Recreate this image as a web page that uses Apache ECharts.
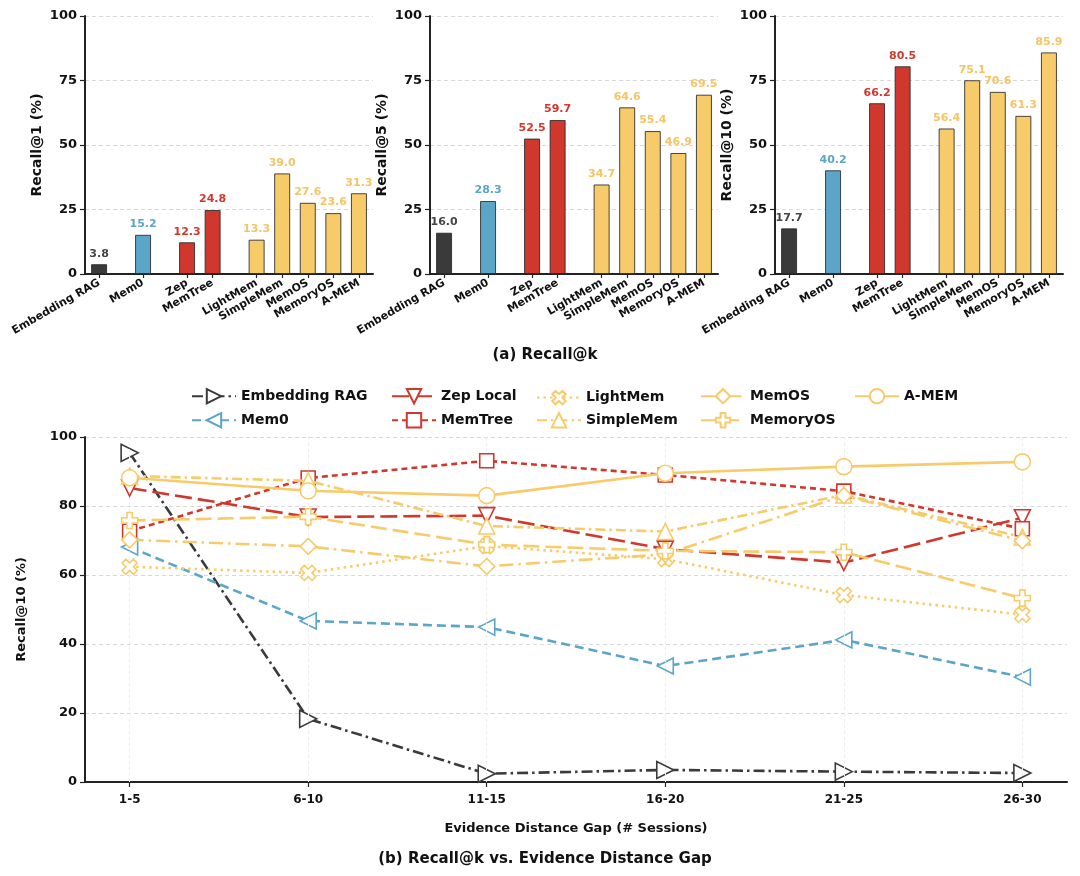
<!DOCTYPE html>
<html>
<head>
<meta charset="utf-8">
<title>Recall@k</title>
<script src="https://cdn.jsdelivr.net/npm/echarts@6/dist/echarts.min.js"></script>
<style>
	html, body { margin: 0; padding: 0; background: #fff; }
	#chart { width: 1080px; height: 876px; }
</style>
</head>
<body>
<div id="chart"></div>
<script>
// ---- data (a) bars
var methods = ['Embedding RAG', 'Mem0', 'Zep', 'MemTree', 'LightMem', 'SimpleMem', 'MemOS', 'MemoryOS', 'A-MEM'];
var barPos = [0, 1.72, 3.44, 4.44, 6.16, 7.16, 8.16, 9.16, 10.16]; // grouped slots
var recall1 = [3.8, 15.2, 12.3, 24.8, 13.3, 39.0, 27.6, 23.6, 31.3];
var recall5 = [16.0, 28.3, 52.5, 59.7, 34.7, 64.6, 55.4, 46.9, 69.5];
var recall10 = [17.7, 40.2, 66.2, 80.5, 56.4, 75.1, 70.6, 61.3, 85.9];

// ---- data (b) lines
var gaps = ['1-5', '6-10', '11-15', '16-20', '21-25', '26-30'];
var embeddingRag = [95.4, 18.3, 2.4, 3.5, 3.0, 2.6];
var mem0 = [68.1, 46.7, 44.9, 33.6, 41.2, 30.4];
var zepLocal = [85.2, 76.8, 77.2, 67.5, 63.6, 76.6];
var memTree = [72.7, 88.1, 93.1, 89.0, 84.3, 73.4];
var lightMem = [62.4, 60.6, 68.4, 64.6, 54.2, 48.5];
var simpleMem = [88.7, 87.3, 74.2, 72.6, 83.2, 71.0];
var memOS = [70.2, 68.3, 62.5, 66.0, 83.0, 69.9];
var memoryOS = [75.8, 76.9, 68.8, 67.0, 66.6, 53.3];
var aMem = [88.2, 84.4, 83.0, 89.5, 91.4, 92.8];

var DARK = '#3a3a3a';
var BLUE = '#5aa5c8';
var RED = '#d0372d';
var YELLOW = '#f8cb6a';
var FONT = 'DejaVu Sans';

// colour of each bar, by group
var barColors = [DARK, BLUE, RED, RED, YELLOW, YELLOW, YELLOW, YELLOW, YELLOW];
var labelColors = ['#444', BLUE, RED, RED, '#f5c463', '#f5c463', '#f5c463', '#f5c463', '#f5c463'];

var PLUS = 'path://M1,0 L2,0 L2,1 L3,1 L3,2 L2,2 L2,3 L1,3 L1,2 L0,2 L0,1 L1,1 Z';

var chart = echarts.init(document.getElementById('chart'), null, { renderer: 'canvas' });

function nameAt(list, pos, v) {
	for (var i = 0; i < pos.length; i++) {
		if (Math.abs(pos[i] - v) < 0.01) return list[i];
	}
	return '';
}

function barPanel(idx, left, values, yName) {
	var grid = { left: left, top: 16, width: 288, height: 258 };
	var xAxis = {
		type: 'value',
		gridIndex: idx,
		min: -0.55,
		max: 10.71,
		axisLine: { show: true, onZero: false, lineStyle: { color: '#222', width: 2 } },
		axisTick: { show: true, customValues: barPos, length: 4, lineStyle: { color: '#222', width: 1.2 } },
		axisLabel: {
			customValues: barPos,
			rotate: 30,
			margin: 8,
			fontFamily: FONT,
			fontWeight: 'bold',
			fontSize: 11,
			color: '#111',
			formatter: function(v) {
				return nameAt(methods, barPos, v);
			},
		},
		splitLine: { show: false },
	};
	var yAxis = {
		type: 'value',
		gridIndex: idx,
		min: 0,
		max: 100,
		interval: 25,
		name: yName,
		nameLocation: 'middle',
		nameGap: 41,
		nameTextStyle: { fontFamily: FONT, fontWeight: 'bold', fontSize: 14, color: '#111' },
		axisLine: { show: true, onZero: false, lineStyle: { color: '#222', width: 2 } },
		axisTick: { show: true, length: 5, lineStyle: { color: '#222', width: 1.2 } },
		axisLabel: { fontFamily: FONT, fontWeight: 'bold', fontSize: 13, color: '#111', margin: 8 },
		splitLine: { show: true, lineStyle: { color: '#d8d8d8', type: [4, 3], width: 1 } },
	};
	var data = values.map(function(v, i) {
		return {
			value: [barPos[i], v],
			itemStyle: { color: barColors[i] },
			label: { color: labelColors[i] },
		};
	});
	var series = {
		type: 'bar',
		xAxisIndex: idx,
		yAxisIndex: idx,
		barWidth: 16,
		data: data,
		itemStyle: { borderColor: 'rgba(40,40,40,0.85)', borderWidth: 1 },
		label: {
			show: true,
			position: 'top',
			distance: 5,
			fontFamily: FONT,
			fontWeight: 'bold',
			fontSize: 11,
			formatter: function(p) {
				return p.value[1].toFixed(1);
			},
		},
	};
	return { grid: grid, xAxis: xAxis, yAxis: yAxis, series: series };
}

var panels = [
	barPanel(0, 85, recall1, 'Recall@1 (%)'),
	barPanel(1, 430, recall5, 'Recall@5 (%)'),
	barPanel(2, 775, recall10, 'Recall@10 (%)'),
];

// line series description: name, values, colour, dash, symbol, rotate
var lineDefs = [
	['Embedding RAG', embeddingRag, DARK, [11, 4, 2.5, 4], 'triangle', -90],
	['Mem0', mem0, BLUE, [9, 5], 'triangle', 90],
	['Zep Local', zepLocal, RED, [17, 6], 'triangle', 180],
	['MemTree', memTree, RED, [6, 4], 'rect', 0],
	['LightMem', lightMem, YELLOW, [2.5, 4], PLUS, 45],
	['SimpleMem', simpleMem, YELLOW, [10, 4, 2.5, 4], 'triangle', 0],
	['MemOS', memOS, YELLOW, [14, 5, 2.5, 5], 'diamond', 0],
	['MemoryOS', memoryOS, YELLOW, [16, 6], PLUS, 0],
	['A-MEM', aMem, YELLOW, 'solid', 'circle', 0],
];

var lineSeries = lineDefs.map(function(d, k) {
	return {
		name: d[0],
		type: 'line',
		xAxisIndex: 3,
		yAxisIndex: 3,
		data: d[1].map(function(v, i) {
			return [i, v];
		}),
		color: d[2],
		lineStyle: { color: d[2], width: 2.6, type: d[3] },
		symbol: d[4],
		symbolRotate: d[5],
		symbolSize: d[4] == 'rect' ? 14 : (k == 0 ? 17 : 16),
		showSymbol: true,
		itemStyle: { color: '#fff', borderColor: d[2], borderWidth: 1.6 },
		emphasis: { disabled: true },
		animation: false,
		z: 3 + k,
	};
});

// faint vertical grid at each gap bucket (own series, drawn behind)
var vGrid = {
	type: 'line',
	xAxisIndex: 3,
	yAxisIndex: 3,
	data: [],
	silent: true,
	z: 1,
	markLine: {
		silent: true,
		symbol: ['none', 'none'],
		label: { show: false },
		animation: false,
		data: gaps.map(function(g, i) {
			return { xAxis: i, lineStyle: { color: '#ededed', type: [3, 3], width: 1 } };
		}),
	},
};

// legend laid out column-wise: one small legend per entry
var legendSlots = [
	['Embedding RAG', 191, 388],
	['Mem0', 191, 412],
	['Zep Local', 391, 388],
	['MemTree', 391, 412],
	['LightMem', 536, 386],
	['SimpleMem', 536, 412],
	['MemOS', 700, 388],
	['MemoryOS', 700, 412],
	['A-MEM', 854, 388],
];

var legends = legendSlots.map(function(c) {
	return {
		left: c[1],
		top: c[2],
		data: [c[0]],
		itemWidth: 44,
		itemHeight: 18,
		selectedMode: false,
		padding: 0,
		textStyle: { fontFamily: FONT, fontWeight: 'bold', fontSize: 14, color: '#111' },
	};
});

var gapTicks = gaps.map(function(g, i) {
	return i;
});

var option = {
	animation: false,
	backgroundColor: '#fff',
	title: [
		{
			text: '(a) Recall@k',
			left: 540,
			top: 343,
			textAlign: 'center',
			textStyle: { fontFamily: FONT, fontWeight: 'bold', fontSize: 15, color: '#111' },
		},
		{
			text: '(b) Recall@k vs. Evidence Distance Gap',
			left: 540,
			top: 847,
			textAlign: 'center',
			textStyle: { fontFamily: FONT, fontWeight: 'bold', fontSize: 15, color: '#111' },
		},
	],
	legend: legends,
	grid: panels
		.map(function(p) {
			return p.grid;
		})
		.concat([{ left: 85, top: 437, width: 982, height: 345 }]),
	xAxis: panels
		.map(function(p) {
			return p.xAxis;
		})
		.concat([
			{
				type: 'value',
				gridIndex: 3,
				min: -0.25,
				max: 5.25,
				name: 'Evidence Distance Gap (# Sessions)',
				nameLocation: 'middle',
				nameGap: 40,
				nameTextStyle: { fontFamily: FONT, fontWeight: 'bold', fontSize: 13, color: '#111' },
				axisLine: { show: true, onZero: false, lineStyle: { color: '#222', width: 2 } },
				axisTick: { show: true, customValues: gapTicks, length: 5, lineStyle: { color: '#222', width: 1.2 } },
				axisLabel: {
					customValues: gapTicks,
					margin: 12,
					fontFamily: FONT,
					fontWeight: 'bold',
					fontSize: 12,
					color: '#111',
					formatter: function(v) {
						return gaps[Math.round(v)];
					},
				},
				splitLine: { show: false },
			},
		]),
	yAxis: panels
		.map(function(p) {
			return p.yAxis;
		})
		.concat([
			{
				type: 'value',
				gridIndex: 3,
				min: 0,
				max: 100,
				interval: 20,
				name: 'Recall@10 (%)',
				nameLocation: 'middle',
				nameGap: 57,
				nameTextStyle: { fontFamily: FONT, fontWeight: 'bold', fontSize: 13, color: '#111' },
				axisLine: { show: true, onZero: false, lineStyle: { color: '#222', width: 2 } },
				axisTick: { show: true, length: 5, lineStyle: { color: '#222', width: 1.2 } },
				axisLabel: { fontFamily: FONT, fontWeight: 'bold', fontSize: 13, color: '#111', margin: 8 },
				splitLine: { show: true, lineStyle: { color: '#d8d8d8', type: [4, 3], width: 1 } },
			},
		]),
	series: panels
		.map(function(p) {
			return p.series;
		})
		.concat([vGrid])
		.concat(lineSeries),
};

chart.setOption(option);
</script>
</body>
</html>
